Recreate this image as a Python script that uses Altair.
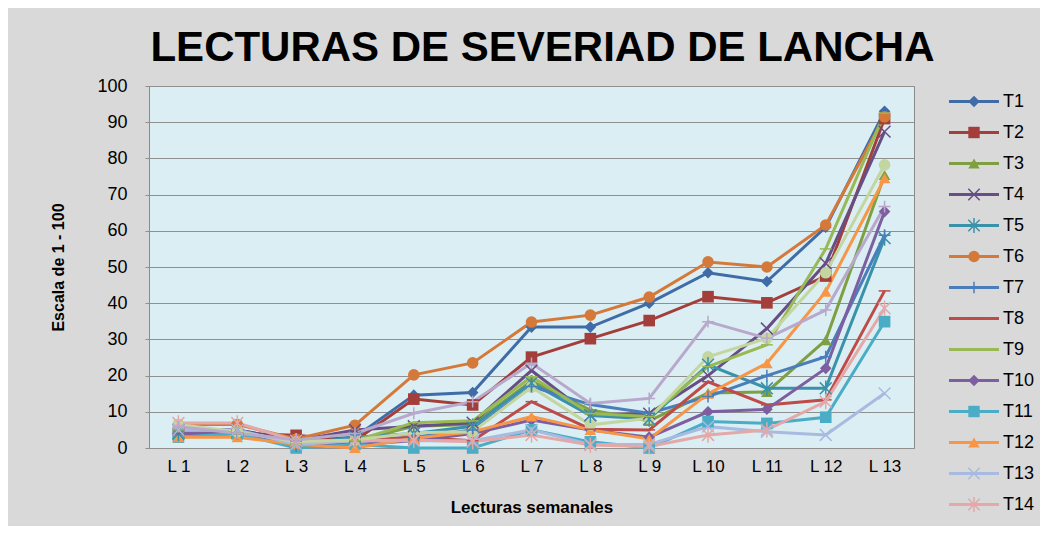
import altair as alt
import pandas as pd

lecturas = ["L 1", "L 2", "L 3", "L 4", "L 5", "L 6", "L 7", "L 8", "L 9", "L 10", "L 11", "L 12", "L 13"]
series = ["T1", "T2", "T3", "T4", "T5", "T6", "T7", "T8", "T9", "T10", "T11", "T12", "T13", "T14", "T15", "T16"]
legend_series = series[:14]

t1 = [5, 5, 2, 3, 14.6, 15.3, 33.4, 33.4, 40, 48.4, 46, 61, 93]
t2 = [4, 4, 3.5, 2, 13.5, 11.9, 25.1, 30.2, 35.2, 41.8, 40.1, 47.5, 91]
t3 = [3, 4, 1, 2, 6, 6.5, 18.5, 10.5, 7.5, 15.2, 15.5, 29.8, 75.4]
t4 = [5, 5, 2, 5, 6, 7, 21.4, 9, 9.5, 20, 33, 51, 87.4]
t5 = [4, 5, 1, 3, 4, 6, 18, 9, 8, 23, 16.5, 16.5, 58]
t6 = [6.5, 6.5, 2.5, 6.3, 20.2, 23.5, 34.8, 36.7, 41.7, 51.4, 50, 61.6, 91.5]
t7 = [5, 4, 1, 2, 3, 5, 17, 12, 9.6, 14.2, 20, 25.2, 58.8]
t8 = [4, 4, 2, 2, 3, 2, 12.8, 5.2, 5, 18.3, 11.9, 13.3, 43.4]
t9 = [5, 4, 1, 2, 7, 7.5, 19.7, 9.5, 8.7, 22.5, 28.5, 55, 92.5]
t10 = [4, 4, 1, 1, 2, 4, 7.7, 5, 3, 10, 10.7, 22, 65.3]
t11 = [3, 4, 0, 1, 0, 0, 5, 1.7, 0, 7.3, 6.8, 8.5, 34.9]
t12 = [3, 3, 1, 0, 2.7, 4.5, 8.7, 5, 2.5, 15, 23.4, 43.2, 74.5]
t13 = [5, 5, 1, 2, 2, 2, 5, 1, 1, 5.9, 4.5, 3.6, 15.1]
t14 = [6.9, 6.9, 2, 2, 2.2, 1.7, 3.6, 0.8, 0.4, 3.6, 5, 12.8, 38.6]
t15 = [6.5, 4.5, 1.7, 2.2, 4.2, 4.5, 16.8, 6.4, 8.2, 25.2, 30.3, 48.4, 78.2]
t16 = [5.9, 4.1, 2.2, 4, 9.6, 12.8, 23.4, 12.3, 13.7, 34.9, 30.3, 38.1, 66.7]
values = [t1, t2, t3, t4, t5, t6, t7, t8, t9, t10, t11, t12, t13, t14, t15, t16]

colors = ["#3F6CA7", "#A33E3B", "#7F9F43", "#674E84", "#3A92AA", "#D5793A", "#4A7EBB", "#BE4B48",
          "#98B954", "#7D5FA0", "#4BACC6", "#F79646", "#A8BAE0", "#E4A8A8", "#C4D6A0", "#B8A8CC"]

X_PATH = "M-1,-1L1,1M-1,1L1,-1"
STAR_PATH = "M-1,-1L1,1M-1,1L1,-1M0,-1.3L0,1.3"
PLUS_PATH = "M-1,0L1,0M0,-1L0,1"
DASH_PATH = "M-1,0L1,0"
shapes = ["diamond", "square", "triangle-up", X_PATH, STAR_PATH, "circle", PLUS_PATH, DASH_PATH,
          DASH_PATH, "diamond", "square", "triangle-up", X_PATH, STAR_PATH, "circle", PLUS_PATH]
filled_flags = [True, True, True, False, False, True, False, False,
                False, True, True, True, False, False, True, False]

rows = []
for i, (s, vals) in enumerate(zip(series, values)):
    for lab, v in zip(lecturas, vals):
        rows.append({"serie": s, "lectura": lab, "valor": v, "shape": shapes[i],
                     "relleno": filled_flags[i], "orden": i})
df = pd.DataFrame(rows)

leg_rows = [{"serie": s, "shape": shapes[i], "relleno": filled_flags[i]} for i, s in enumerate(legend_series)]
df_leg = pd.DataFrame(leg_rows)

FONT = "Liberation Sans"
filled_names = [s for s, f in zip(series, filled_flags) if f]
stroked_names = [s for s, f in zip(series, filled_flags) if not f]

color = alt.Color("serie:N", scale=alt.Scale(domain=series, range=colors), legend=None)
x = alt.X("lectura:N", sort=lecturas, title="Lecturas semanales",
          axis=alt.Axis(labelAngle=0, ticks=False, domain=False, labelFontSize=17, labelPadding=10,
                        titleFontSize=17, titleFontWeight="bold", titlePadding=25,
                        labelColor="#000", titleColor="#000", grid=False))
y = alt.Y("valor:Q", scale=alt.Scale(domain=[0, 100], nice=False),
          title="Escala de 1 - 100",
          axis=alt.Axis(values=list(range(0, 101, 10)), grid=True, gridColor="#8f8f8f", gridWidth=1.2,
                        domain=False, ticks=True, tickColor="#8f8f8f", tickSize=4,
                        labelFontSize=18, labelPadding=18, labelColor="#000",
                        titleFontSize=16, titleFontWeight="bold", titlePadding=30, titleColor="#000"))

base = alt.Chart(df)
lines = base.mark_line(strokeWidth=3).encode(x=x, y=y, color=color, detail="serie:N", order="orden:Q")
pts_filled = base.transform_filter(alt.FieldOneOfPredicate(field="serie", oneOf=filled_names)).mark_point(
    filled=True, size=135, opacity=1).encode(x=x, y=y, color=color, shape=alt.Shape("shape:N", scale=None))
pts_stroked = base.transform_filter(alt.FieldOneOfPredicate(field="serie", oneOf=stroked_names)).mark_point(
    filled=False, size=140, strokeWidth=1.5, opacity=1).encode(x=x, y=y, color=color,
                                                                 shape=alt.Shape("shape:N", scale=None))

plot = alt.layer(lines, pts_filled, pts_stroked).properties(
    width=765, height=362,
    view=alt.ViewBackground(fill="#DBEEF3", stroke="#8a8a8a", strokeWidth=1))

ly = alt.Y("serie:N", sort=legend_series, axis=None)
lcolor = alt.Color("serie:N", scale=alt.Scale(domain=series, range=colors), legend=None)
lbase = alt.Chart(df_leg)
leg_rule = lbase.mark_rule(strokeWidth=3).encode(y=ly, x=alt.value(0), x2=alt.value(50), color=lcolor)
leg_fill = lbase.transform_filter(alt.FieldOneOfPredicate(field="serie", oneOf=filled_names)).mark_point(
    filled=True, size=130, opacity=1).encode(y=ly, x=alt.value(25), color=lcolor,
                                             shape=alt.Shape("shape:N", scale=None))
leg_stroke = lbase.transform_filter(alt.FieldOneOfPredicate(field="serie", oneOf=stroked_names)).mark_point(
    filled=False, size=130, strokeWidth=1.5, opacity=1).encode(y=ly, x=alt.value(25), color=lcolor,
                                                                 shape=alt.Shape("shape:N", scale=None))
leg_text = lbase.mark_text(align="left", baseline="middle", fontSize=18, font=FONT, color="#000").encode(
    y=ly, x=alt.value(54), text="serie:N")
legend = alt.layer(leg_rule, leg_fill, leg_stroke, leg_text).properties(
    width=60, height=434, view=alt.ViewBackground(fill="transparent", stroke="transparent"))

chart = alt.hconcat(plot, legend, spacing=32).properties(
    title=alt.TitleParams("LECTURAS DE SEVERIAD DE LANCHA", fontSize=42, font=FONT, fontWeight="bold",
                          anchor="middle", color="#000", offset=7),
    background="#D9D9D9",
    padding={"left": 42, "top": 18, "right": 5, "bottom": 5},
).configure(font=FONT).configure_view(stroke="transparent")

chart.save("out.html", embed_options={"renderer": "svg", "actions": False})
